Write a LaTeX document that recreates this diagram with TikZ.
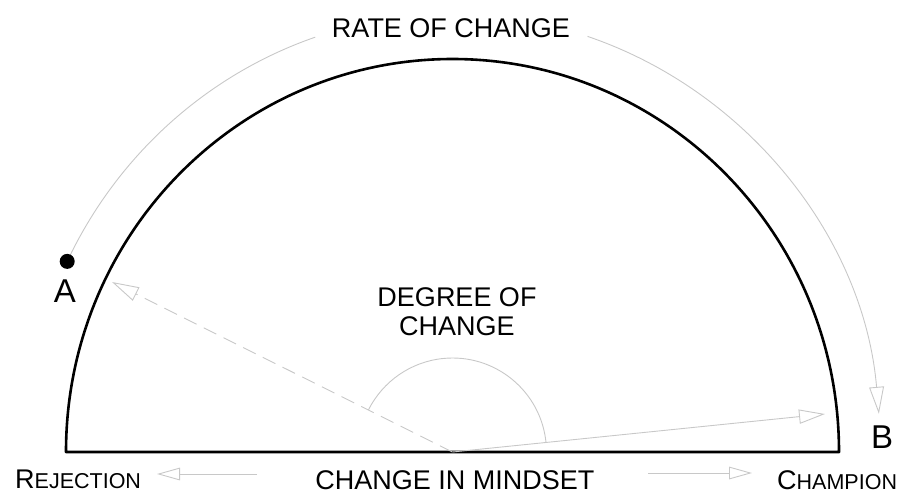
\documentclass[tikz,border=0pt]{standalone}
\usepackage{fontspec}
\setmainfont{Liberation Sans}
\usetikzlibrary{arrows.meta,calc}
\definecolor{lightline}{RGB}{200,200,200}
\tikzset{
  bigtxt/.style={inner sep=0pt, anchor=base, font=\fontsize{27}{30}\selectfont},
  lettertxt/.style={inner sep=0pt, anchor=base, font=\fontsize{33}{36}\selectfont},
  thinline/.style={draw=lightline, line width=0.9pt},
  opentip/.style={-{Triangle[open, length=#1, width=0.55*#1]}},
  opentip/.default=25pt,
  frame/.style={draw=black, line width=2.6pt, line join=round},
  dotstyle/.style={circle, fill=black, inner sep=0pt, minimum size=15pt}
}
\newcommand{\scword}[2]{{\fontsize{27}{30}\selectfont #1}{\fontsize{21.5}{30}\selectfont #2}}
\begin{document}
\begin{tikzpicture}[x=1pt, y=-1pt]
\useasboundingbox (0,0) rectangle (901,493);
\coordinate (O) at (452.5,452);
% main half ellipse
\draw[frame] (66,452) arc[start angle=-180, end angle=0, x radius=386.5, y radius=393] -- cycle;
% rate of change arc
\coordinate (Astart) at ($(O)+({428*cos(-154.2)},{438*sin(-154.2)})$);
\draw[thinline] (Astart) arc[start angle=-154.2, end angle=-108.7, x radius=428, y radius=438];
\node[dotstyle] (dotA) at (Astart) {};
\coordinate (gapR) at ($(O)+({428*cos(-71.6)},{438*sin(-71.6)})$);
\draw[thinline, opentip=27pt] (gapR)
  arc[start angle=-71.6, end angle=-5, x radius=428, y radius=438] coordinate (Bend);
% degree arrows
\coordinate (tipA) at (112,282);
\coordinate (tipB) at (825,414);
\draw[thinline, dash pattern=on 14pt off 8pt, opentip=27pt] (O) -- (tipA);
\draw[thinline, opentip=26pt] (O) -- (tipB);
\draw[thinline] (O) ++(-5.8:94) arc[start angle=-5.8, end angle=-153.4, radius=94];
% texts
\node[bigtxt] (rate) at (451,37) {RATE OF CHANGE};
\node[bigtxt] (mind) at (455,489) {CHANGE IN MINDSET};
\node[bigtxt] (deg1) at (457,306) {DEGREE OF};
\node[bigtxt] (deg2) at (457,335) {CHANGE};
\node[inner sep=0pt, anchor=base west] (rej) at (15,488) {\scword{R}{EJECTION}};
\node[inner sep=0pt, anchor=base west] (champ) at (777,489) {\scword{C}{HAMPION}};
\node[lettertxt] (A) at (65,302) {A};
\node[lettertxt] (B) at (882,448) {B};
% side arrows
\coordinate (rejS) at (257,474);
\coordinate (rejE) at (157,474);
\coordinate (chS) at (648,473);
\coordinate (chE) at (752,473);
\draw[thinline, opentip=23pt] (rejS) -- (rejE);
\draw[thinline, opentip=23pt] (chS) -- (chE);
\end{tikzpicture}
\end{document}
